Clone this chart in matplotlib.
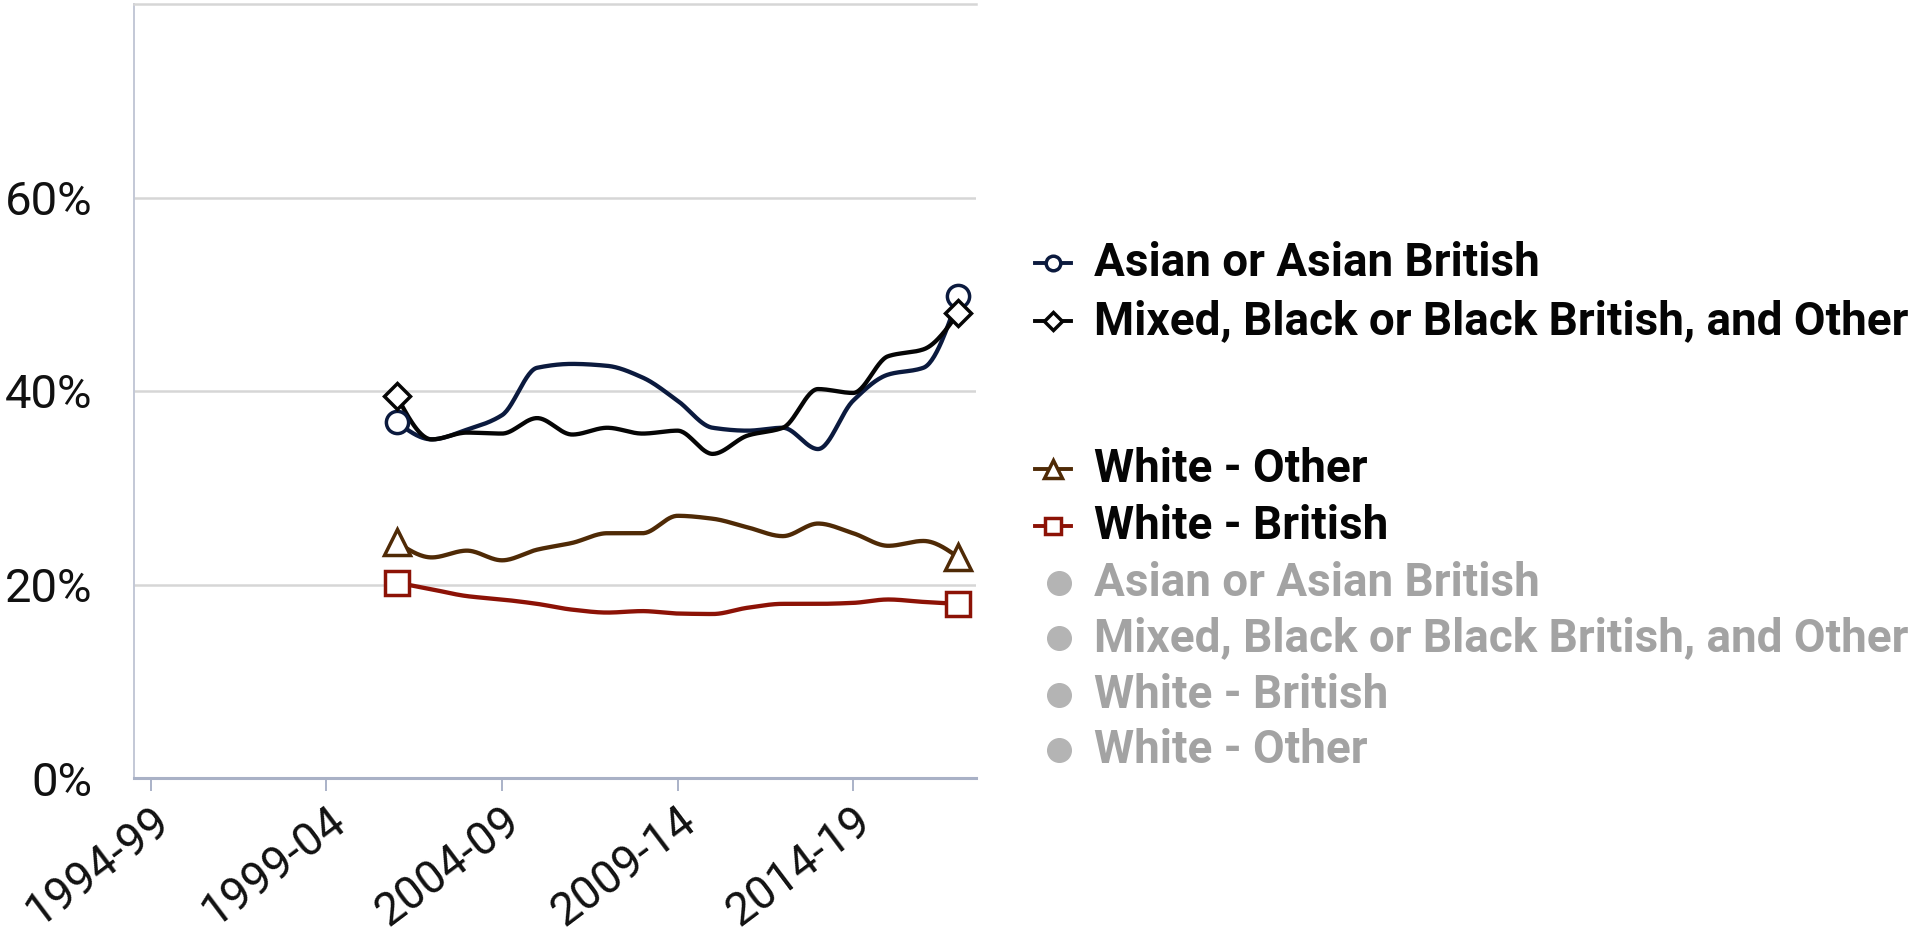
import numpy as np
import matplotlib
matplotlib.use("Agg")
import matplotlib.pyplot as plt
from matplotlib.lines import Line2D

plt.rcParams["font.family"] = ["Roboto", "DejaVu Sans"]

# five-year rolling periods on the x axis
periods = ["1994-99", "1995-00", "1996-01", "1997-02", "1998-03", "1999-04",
           "2000-05", "2001-06", "2002-07", "2003-08", "2004-09", "2005-10",
           "2006-11", "2007-12", "2008-13", "2009-14", "2010-15", "2011-16",
           "2012-17", "2013-18", "2014-19", "2015-20", "2016-21", "2017-22"]
tick_periods = ["1994-99", "1999-04", "2004-09", "2009-14", "2014-19"]
first_period = "2001-06"   # series start here and run to the last period

# percentages, 2001-06 .. 2017-22
asian = [36.8, 35.0, 36.0, 37.5, 42.4, 42.8, 42.6, 41.4, 39.0, 36.2, 35.9,
         36.2, 34.0, 39.0, 41.7, 42.4, 49.8]
mixed = [39.5, 35.0, 35.7, 35.6, 37.2, 35.5, 36.2, 35.6, 35.9, 33.5, 35.4,
         36.2, 40.2, 39.8, 43.6, 44.3, 48.1]
white_other = [24.4, 22.8, 23.5, 22.5, 23.6, 24.3, 25.3, 25.3, 27.1, 26.8,
               25.9, 25.0, 26.3, 25.3, 24.0, 24.5, 22.8]
white_british = [20.2, 19.5, 18.8, 18.45, 18.0, 17.4, 17.1, 17.25, 17.0, 16.95,
                 17.6, 18.0, 18.0, 18.1, 18.45, 18.2, 18.0]

C_ASIAN = "#0b1a3e"
C_MIXED = "#050505"
C_WOTHER = "#4f2a06"
C_WBRIT = "#8c1206"
C_GREY_TXT = "#a3a3a3"
C_GREY_DOT = "#b4b4b4"

W, H = 1913, 932


def monotone_curve(x, y, n=30):
    """Monotone cubic (Fritsch-Carlson) through the points, for a smooth line."""
    x = np.asarray(x, float)
    y = np.asarray(y, float)
    h = np.diff(x)
    d = np.diff(y) / h
    m = np.zeros_like(y)
    for i in range(1, len(y) - 1):
        if d[i - 1] * d[i] > 0:
            w1 = 2 * h[i] + h[i - 1]
            w2 = h[i] + 2 * h[i - 1]
            m[i] = (w1 + w2) / (w1 / d[i - 1] + w2 / d[i])
    m[0] = (3 * d[0] - m[1]) / 2 if d[0] * (3 * d[0] - m[1]) > 0 else 0
    m[-1] = (3 * d[-1] - m[-2]) / 2 if d[-1] * (3 * d[-1] - m[-2]) > 0 else 0
    xs, ys = [], []
    for i in range(len(h)):
        t = np.linspace(0, 1, n, endpoint=(i == len(h) - 1))
        h00 = 2 * t**3 - 3 * t**2 + 1
        h10 = t**3 - 2 * t**2 + t
        h01 = -2 * t**3 + 3 * t**2
        h11 = t**3 - t**2
        xs.append(x[i] + t * h[i])
        ys.append(h00 * y[i] + h10 * h[i] * m[i] + h01 * y[i + 1] + h11 * h[i] * m[i + 1])
    return np.concatenate(xs), np.concatenate(ys)


fig = plt.figure(figsize=(W / 100, H / 100), dpi=100)
ax = fig.add_axes([134 / W, 1 - 778 / H, (976 - 134) / W, (778 - 4) / H])

start = periods.index(first_period)
xi = np.arange(start, len(periods))

# drawing order: lightest first so the dark lines sit on top
series = [
    (white_british, C_WBRIT, "s", 17),
    (white_other, C_WOTHER, "^", 19),
    (asian, C_ASIAN, "o", 16),
    (mixed, C_MIXED, "D", 13),
]
for vals, col, mk, ms in series:
    sx, sy = monotone_curve(xi, vals)
    ax.plot(sx, sy, color=col, lw=3.1, solid_capstyle="round", zorder=3)
    ends = [0, -1]
    ax.plot(xi[ends], np.asarray(vals)[ends], ls="none", marker=mk, ms=ms,
            mfc="white", mec=col, mew=2.5, zorder=4)

ax.set_xlim(-0.48, 23.5)
ax.set_ylim(0, 80)
ax.set_yticks([0, 20, 40, 60])
ax.set_yticklabels(["0%", "20%", "40%", "60%"])
ax.set_xticks([periods.index(p) for p in tick_periods])
ax.set_xticklabels(tick_periods, rotation=37, ha="right", va="top",
                   rotation_mode="anchor")
ax.yaxis.grid(True, color="#d6d6d6", lw=1.8)
ax.set_axisbelow(True)
ax.tick_params(axis="y", length=0, pad=30, labelsize=34, labelcolor="#111111")
ax.tick_params(axis="x", length=9.5, width=1.4, color="#aab2c8", pad=5,
               labelsize=33, labelcolor="#111111")
ax.spines["right"].set_visible(False)
ax.spines["top"].set_color("#d6d6d6")
ax.spines["top"].set_linewidth(1.8)
ax.spines["left"].set_color("#c3c8d6")
ax.spines["left"].set_linewidth(1.4)
ax.spines["bottom"].set_color("#a9b1c6")
ax.spines["bottom"].set_linewidth(2.2)


def fx(px):
    return px / W


def fy(py):
    return 1 - py / H


# legend: highlighted series with their markers, then the greyed-out list
legend_rows = [
    ("Asian or Asian British", C_ASIAN, "o", 10.5, 263),
    ("Mixed, Black or Black British, and Other", C_MIXED, "D", 9, 321),
    ("White - Other", C_WOTHER, "^", 12.5, 469),
    ("White - British", C_WBRIT, "s", 11, 526),
]
for label, col, mk, ms, py in legend_rows:
    fig.add_artist(Line2D([fx(1035), fx(1071)], [fy(py), fy(py)], color=col,
                          lw=2.8, transform=fig.transFigure))
    fig.add_artist(Line2D([fx(1053)], [fy(py)], ls="none", marker=mk, ms=ms,
                          mfc="white", mec=col, mew=2.5, transform=fig.transFigure))
    fig.text(fx(1094), fy(py), label, fontsize=33, fontweight="bold",
             color="#050505", va="center", ha="left")

grey_rows = [("Asian or Asian British", 583),
             ("Mixed, Black or Black British, and Other", 638),
             ("White - British", 695),
             ("White - Other", 750)]
for label, py in grey_rows:
    fig.add_artist(Line2D([fx(1059)], [fy(py)], ls="none", marker="o", ms=17,
                          mfc=C_GREY_DOT, mec=C_GREY_DOT, transform=fig.transFigure))
    fig.text(fx(1094), fy(py), label, fontsize=33, fontweight="bold",
             color=C_GREY_TXT, va="center", ha="left")

fig.savefig("out.png", dpi=100, facecolor="white")
